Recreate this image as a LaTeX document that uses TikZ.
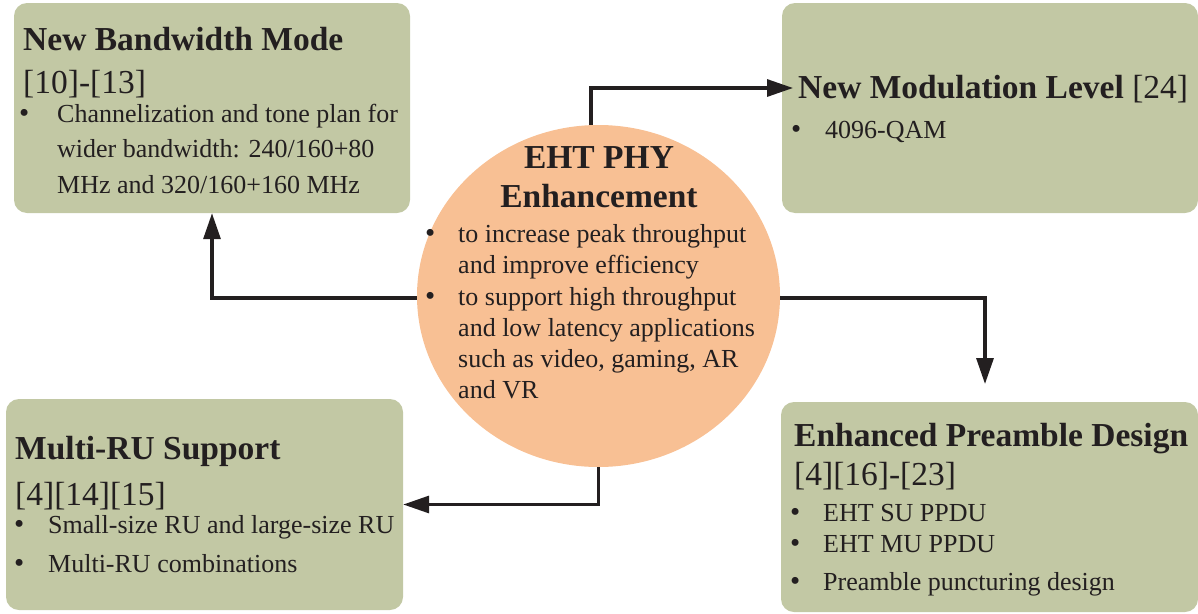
\documentclass[tikz,border=0pt]{standalone}
\usepackage{fontspec}
\setmainfont{Liberation Serif}
\usetikzlibrary{shapes.geometric,arrows.meta}
\definecolor{boxgreen}{RGB}{194,200,164}
\definecolor{peach}{RGB}{248,192,148}
\definecolor{ink}{RGB}{35,31,32}

\begin{document}
\begin{tikzpicture}[x=1pt,y=-1pt,
  box/.style={fill=boxgreen,rounded corners=13pt,inner sep=0pt},
  head/.style={anchor=base west,inner sep=0pt,text=ink,font=\fontsize{33.5}{40}\selectfont\bfseries},
  refs/.style={anchor=base west,inner sep=0pt,text=ink,font=\fontsize{33.5}{40}\selectfont},
  item/.style={anchor=base west,inner sep=0pt,text=ink,font=\fontsize{26}{32}\selectfont},
  dot/.style={anchor=base west,inner sep=0pt,text=ink,text height=14pt,text depth=0pt,font=\fontsize{29}{32}\selectfont},
  link/.style={draw=ink,line width=3.2pt,-{Triangle[length=26pt,width=17pt]}}]
  \useasboundingbox (0,0) rectangle (1198,613);

  \node[box,minimum width=396pt,minimum height=210pt] (bw) at (212,108) {};
  \node[box,minimum width=416pt,minimum height=210pt] (mod) at (990,108) {};
  \node[box,minimum width=397pt,minimum height=211pt] (mru) at (204.5,504.5) {};
  \node[box,minimum width=417pt,minimum height=210pt] (epd) at (989.5,507) {};
  \node[ellipse,fill=peach,inner sep=0pt,minimum width=363pt,minimum height=342pt] (phy) at (598.5,296) {};

  \node[head] (bwtitle) at (23,50) {New Bandwidth Mode};
  \node[refs] (bwrefs) at (23,93) {[10]-[13]};
  \node[dot] (bwdot) at (19,122) {\textbullet};
  \node[item] (bwline1) at (57,122) {Channelization and tone plan for};
  \node[item] (bwline2) at (57,157) {wider bandwidth: 240/160+80};
  \node[item] (bwline3) at (57,193) {MHz and 320/160+160 MHz};

  \node[refs] (modtitle) at (798,98) {\textbf{New Modulation Level} [24]};
  \node[dot] (moddot) at (791,138) {\textbullet};
  \node[item] (modline1) at (825,138) {4096-QAM};

  \node[head] (mrutitle) at (15,459) {Multi-RU Support};
  \node[refs] (mrurefs) at (15,505) {[4][14][15]};
  \node[dot] (mrudot1) at (14,533) {\textbullet};
  \node[item] (mruline1) at (48,533) {Small-size RU and large-size RU};
  \node[dot] (mrudot2) at (14,572) {\textbullet};
  \node[item] (mruline2) at (48,572) {Multi-RU combinations};

  \node[head] (epdtitle) at (794,446) {Enhanced Preamble Design};
  \node[refs] (epdrefs) at (794,485) {[4][16]-[23]};
  \node[dot] (epddot1) at (790,521) {\textbullet};
  \node[item] (epdline1) at (823,521) {EHT SU PPDU};
  \node[dot] (epddot2) at (790,552) {\textbullet};
  \node[item] (epdline2) at (823,552) {EHT MU PPDU};
  \node[dot] (epddot3) at (790,590) {\textbullet};
  \node[item] (epdline3) at (823,590) {Preamble puncturing design};

  \node[head,anchor=base] (phytitle1) at (599,168) {EHT PHY};
  \node[head,anchor=base] (phytitle2) at (599,207) {Enhancement};
  \node[dot] (phydot1) at (425,242) {\textbullet};
  \node[item] (phyline1) at (458,242) {to increase peak throughput};
  \node[item] (phyline2) at (458,273) {and improve efficiency};
  \node[dot] (phydot2) at (425,305) {\textbullet};
  \node[item] (phyline3) at (458,305) {to support high throughput};
  \node[item] (phyline4) at (458,336) {and low latency applications};
  \node[item] (phyline5) at (458,367) {such as video, gaming, AR};
  \node[item] (phyline6) at (458,398) {and VR};

  \coordinate (modin) at (793,88);
  \coordinate (epdin) at (985,384);
  \draw[link] ([xshift=-7.5pt]phy.north) |- (modin);
  \draw[link] ([yshift=-2pt]phy.west) -| (bw.south);
  \draw[link] ([yshift=-2pt]phy.east) -| (epdin);
  \draw[link] (phy.south) |- (mru.east);
\end{tikzpicture}
\end{document}
